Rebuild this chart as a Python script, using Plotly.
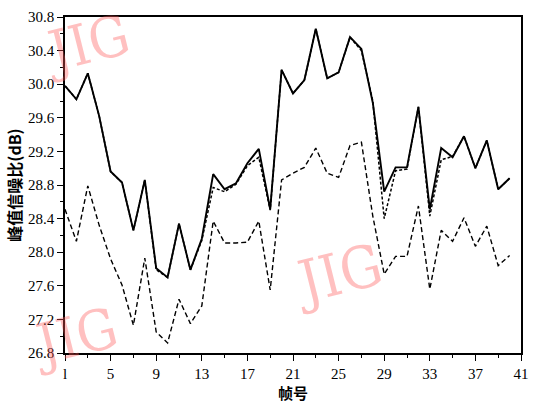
import plotly.graph_objects as go

frames = list(range(1, 41))

psnr_solid = [29.98, 29.82, 30.13, 29.62, 28.96, 28.83, 28.26, 28.86, 27.81, 27.70,
              28.34, 27.79, 28.16, 28.93, 28.75, 28.82, 29.06, 29.23, 28.51, 30.17,
              29.89, 30.05, 30.66, 30.07, 30.14, 30.56, 30.42, 29.78, 28.72, 29.01,
              29.01, 29.73, 28.51, 29.24, 29.13, 29.38, 29.00, 29.33, 28.75, 28.88]

psnr_dotted = [29.98, 29.82, 30.13, 29.62, 28.96, 28.83, 28.26, 28.86, 27.79, 27.70,
               28.34, 27.79, 28.14, 28.77, 28.72, 28.81, 29.03, 29.13, 28.50, 30.17,
               29.89, 30.05, 30.66, 30.07, 30.14, 30.56, 30.40, 29.80, 28.40, 28.97,
               28.99, 29.73, 28.43, 29.10, 29.14, 29.38, 29.00, 29.33, 28.75, 28.88]

psnr_dashed = [28.51, 28.13, 28.79, 28.32, 27.92, 27.61, 27.13, 27.93, 27.05, 26.92,
               27.44, 27.15, 27.36, 28.37, 28.11, 28.11, 28.12, 28.37, 27.55, 28.86,
               28.94, 29.01, 29.24, 28.94, 28.89, 29.27, 29.31, 28.43, 27.74, 27.95,
               27.95, 28.55, 27.56, 28.26, 28.13, 28.41, 28.07, 28.31, 27.84, 27.96]

x_ticks = [1, 5, 9, 13, 17, 21, 25, 29, 33, 37, 41]
x_tick_text = ["l", "5", "9", "13", "17", "21", "25", "29", "33", "37", "41"]
y_ticks = [26.8, 27.2, 27.6, 28.0, 28.4, 28.8, 29.2, 29.6, 30.0, 30.4, 30.8]
y_tick_text = ["26.8", "27.2", "27.6", "28.0", "28.4", "28.8", "29.2", "29.6", "30.0", "30.4", "30.8"]

fig = go.Figure()
fig.add_trace(go.Scatter(x=frames, y=psnr_dashed, mode="lines",
                         line=dict(color="black", width=1.4, dash="5px,3px")))
fig.add_trace(go.Scatter(x=frames, y=psnr_dotted, mode="lines",
                         line=dict(color="black", width=1.5, dash="3px,2px")))
fig.add_trace(go.Scatter(x=frames, y=psnr_solid, mode="lines",
                         line=dict(color="black", width=1.9)))

serif = "Liberation Serif, Times New Roman, serif"
wm_font = "DejaVu Serif Condensed, Liberation Serif, serif"
cjk = "Noto Sans CJK SC, sans-serif"

wm_color = "rgba(255,90,90,0.38)"
for (px, py, sz) in [(0.047, 0.922, 56), (0.599, 0.236, 58), (0.02, 0.05, 56)]:
    fig.add_annotation(x=px, y=py, xref="paper", yref="paper", text="JIG",
                       showarrow=False, textangle=-14,
                       xanchor="center", yanchor="middle",
                       font=dict(family=wm_font, size=sz, color=wm_color))

fig.update_layout(
    width=538, height=403,
    margin=dict(l=65, r=9, t=15, b=40),
    paper_bgcolor="white", plot_bgcolor="white",
    showlegend=False,
    xaxis=dict(range=[1, 41], tickmode="array", tickvals=x_ticks, ticktext=x_tick_text,
               ticks="outside", ticklen=6, tickwidth=1.2, tickcolor="black",
               minor=dict(dtick=2, tick0=1, ticks="outside", ticklen=3, tickcolor="black", tickwidth=1),
               showline=True, linecolor="black", linewidth=1.5, mirror=True,
               showgrid=False, zeroline=False,
               tickfont=dict(family=serif, size=15, color="black"),
               title=dict(text="<b>帧号</b>", font=dict(family=cjk, size=15, color="black"), standoff=2)),
    yaxis=dict(range=[26.8, 30.8], tickmode="array", tickvals=y_ticks, ticktext=y_tick_text,
               ticks="outside", ticklen=6, tickwidth=1.2, tickcolor="black",
               minor=dict(dtick=0.2, tick0=26.8, ticks="outside", ticklen=3, tickcolor="black", tickwidth=1),
               showline=True, linecolor="black", linewidth=1.5, mirror=True,
               showgrid=False, zeroline=False,
               tickfont=dict(family=serif, size=15, color="black"),
               title=dict(text="<b>峰值信噪比(dB)</b>", font=dict(family=cjk, size=16, color="black"), standoff=2)),
)

fig.write_html("out.html")
